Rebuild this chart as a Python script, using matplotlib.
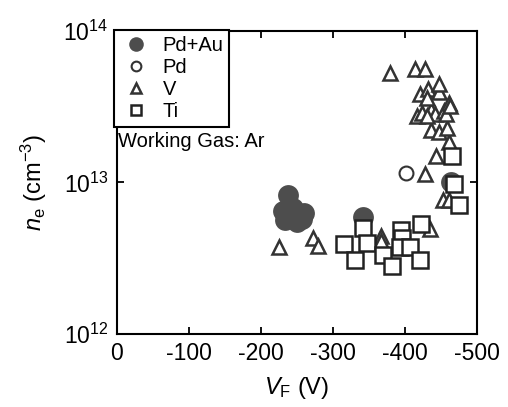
import numpy as np
import matplotlib
matplotlib.use('Agg')
import matplotlib.pyplot as plt
from matplotlib.ticker import LogLocator, NullLocator

plt.rcParams['font.family'] = ['Liberation Sans', 'DejaVu Sans']
plt.rcParams['mathtext.fontset'] = 'custom'
plt.rcParams['mathtext.rm'] = 'Liberation Sans'
plt.rcParams['mathtext.it'] = 'Liberation Sans:italic'

# data (V_F in volts, n_e in cm^-3)
pdau_v = [-238, -231, -245, -260, -234, -250, -257, -342, -464]
pdau_n = [8.2e12, 6.5e12, 6.8e12, 6.3e12, 5.6e12, 5.5e12, 5.75e12, 5.9e12, 1.0e13]

pd_v = [-402]
pd_n = [1.15e13]

v_v = [-225, -273, -280, -367, -367, -435, -453, -462, -428, -444,
       -462, -437, -447, -459, -417, -424, -437, -442, -454, -458,
       -431, -461, -463, -421, -433, -447, -431, -447, -380, -414, -428]
v_n = [3.75e12, 4.3e12, 3.8e12, 4.45e12, 4.1e12, 4.95e12, 7.6e12, 7.6e12, 1.14e13, 1.49e13,
       1.86e13, 2.23e13, 2.16e13, 2.27e13, 2.74e13, 2.88e13, 3.03e13, 2.81e13, 2.95e13, 2.81e13,
       2.74e13, 3.36e13, 3.19e13, 3.85e13, 4.11e13, 3.97e13, 3.62e13, 4.48e13, 5.3e13, 5.58e13, 5.58e13]

ti_v = [-316, -331, -342, -347, -370, -382, -395, -396, -393, -407,
        -421, -422, -476, -468, -466]
ti_n = [3.9e12, 3.08e12, 5.0e12, 4.0e12, 3.32e12, 2.82e12, 4.86e12, 4.28e12, 3.77e12, 3.77e12,
        3.08e12, 5.3e12, 7.1e12, 9.8e12, 1.49e13]

fig = plt.figure(figsize=(5.08, 4.07), dpi=100)
ax = fig.add_axes([0.2297, 0.180, 0.7087, 0.7438])

ax.plot(pdau_v, pdau_n, 'o', ms=15, mfc='#4d4d4d', mec='#4d4d4d', mew=0, ls='none', label='Pd+Au')
ax.plot(v_v, v_n, '^', ms=10, mfc='white', mec='#333333', mew=1.8, ls='none', label='V')
ax.plot(ti_v, ti_n, 's', ms=11, mfc='white', mec='#222222', mew=1.8, ls='none', label='Ti')
ax.plot(pd_v, pd_n, 'o', ms=10, mfc='white', mec='#333333', mew=1.5, ls='none', label='Pd')

ax.set_yscale('log')
ax.set_xlim(0, -500)
ax.set_ylim(1e12, 1e14)
ax.set_xticks([0, -100, -200, -300, -400, -500])
ax.set_xticklabels(['0', '-100', '-200', '-300', '-400', '-500'])
ax.yaxis.set_major_locator(LogLocator(base=10))
ax.yaxis.set_minor_locator(NullLocator())
ax.tick_params(direction='in', length=5, width=1.3, labelsize=16.5, top=True, right=True, pad=6)
for s in ax.spines.values():
    s.set_linewidth(1.5)

ax.set_xlabel(r'$\mathit{V}_\mathrm{F}$ (V)', fontsize=17, labelpad=7)
ax.set_ylabel(r'$\mathit{n}_\mathrm{e}$ (cm$^{-3}$)', fontsize=17, labelpad=10)

ax.text(0.004, 0.635, 'Working Gas: Ar', transform=ax.transAxes, fontsize=14.5,
        ha='left', va='center')

h, l = ax.get_legend_handles_labels()
order = [0, 3, 1, 2]
leg = ax.legend([h[i] for i in order], [l[i] for i in order], loc='upper left',
                bbox_to_anchor=(-0.007, 1.003), borderaxespad=0, fontsize=14.5,
                markerscale=0.7, frameon=True, fancybox=False, edgecolor='black',
                framealpha=1, handlelength=1.6, handletextpad=0.5, labelspacing=0.14,
                borderpad=0.3)
leg.get_frame().set_linewidth(1.5)

fig.savefig('out.png', dpi=100)
